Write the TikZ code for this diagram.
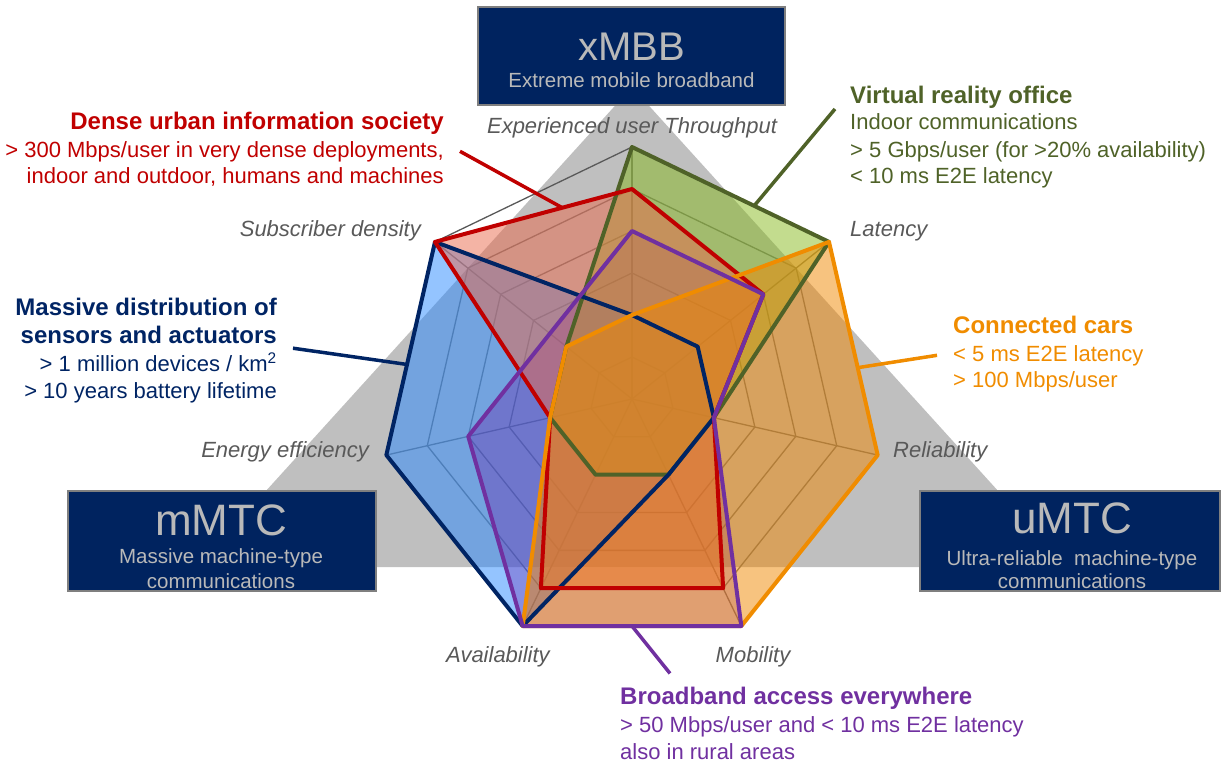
\documentclass[tikz,border=0pt]{standalone}
\usepackage{fontspec}
\setmainfont{Liberation Sans}
\usetikzlibrary{calc, positioning}

\definecolor{catnavy}{RGB}{0,35,95}
\definecolor{boxedge}{RGB}{127,127,127}
\definecolor{boxtext}{RGB}{185,185,185}
\definecolor{triangrey}{RGB}{191,191,191}
\definecolor{axisgrey}{RGB}{89,89,89}
\definecolor{gridgrey}{RGB}{115,115,115}
\definecolor{densered}{RGB}{192,0,0}
\definecolor{vrgreen}{RGB}{79,98,40}
\definecolor{sensornavy}{RGB}{0,36,100}
\definecolor{carorange}{RGB}{240,140,0}
\definecolor{bbpurple}{RGB}{112,48,160}
\definecolor{densefill}{RGB}{233,105,75}
\definecolor{vrfill}{RGB}{135,185,30}
\definecolor{sensorfill}{RGB}{41,137,255}
\definecolor{carfill}{RGB}{240,135,0}
\definecolor{bbfill}{RGB}{103,17,163}

\tikzset{
  catbox/.style={draw=boxedge, line width=1.5pt, fill=catnavy, inner sep=0pt},
  cattitle/.style={text=boxtext, anchor=base, inner sep=0pt, font=\fontsize{44}{44}\selectfont},
  catsub/.style={text=boxtext, anchor=base, inner sep=0pt, font=\fontsize{20.5}{24}\selectfont},
  axislabel/.style={text=axisgrey, inner sep=0pt, font=\fontsize{22}{26}\selectfont\itshape},
  headline/.style={inner sep=0pt, font=\fontsize{24}{27}\selectfont\bfseries},
  detail/.style={inner sep=0pt, font=\fontsize{22}{27}\selectfont},
  gridline/.style={gridgrey, line width=1.3pt},
  series/.style={line width=4pt, line join=round},
  connector/.style={line width=3.5pt},
}

\begin{document}
\begin{tikzpicture}[x=1pt, y=-1pt]
  \useasboundingbox (0,0) rectangle (1221,763);

  % grey triangle behind the chart
  \fill[triangrey] (632,87) -- (1067,567) -- (197,567) -- cycle;

  % usage scenario boxes
  \node[catbox, minimum width=307pt, minimum height=98pt] (xmbb) at (631.5,56) {};
  \node[catbox, minimum width=308pt, minimum height=100pt] (mmtc) at (222,541) {};
  \node[catbox, minimum width=300pt, minimum height=100pt] (umtc) at (1070,541) {};
  \node[cattitle, font=\fontsize{40}{40}\selectfont] (xmbb-t) at (631.5,60) {xMBB};
  \node[catsub] (xmbb-s) at (631.5,87) {Extreme mobile broadband};
  \node[cattitle] (mmtc-t) at (221,535) {mMTC};
  \node[catsub] (mmtc-s) at (221,563) {Massive machine-type};
  \node[catsub] (mmtc-c) at (221,588) {communications};
  \node[cattitle] (umtc-t) at (1072,533) {uMTC};
  \node[catsub] (umtc-s) at (1072,565) {Ultra-reliable\ \ machine-type};
  \node[catsub] (umtc-c) at (1072,588) {communications};

  \begin{scope}[shift={(632,399)}]
    \coordinate (ctr) at (0,0);
    % web
    \foreach \k in {1,...,5}
      \draw[gridline] (-90:{42*\k}) \foreach \i in {1,...,6} { -- ({-90+\i*360/7}:{42*\k}) } -- cycle;
    \foreach \i in {0,...,6}
      \draw[gridline] (ctr) -- ({-90+\i*360/7}:252) coordinate (axis-\i);
    \draw[gridline, axisgrey] (axis-0) \foreach \i in {1,...,6} { -- (axis-\i) } -- cycle;

    % scores: throughput, latency, reliability, mobility, availability, energy, density
    \foreach \v [count=\i from 0] in {2,2,2,2,6,6,6}
      \coordinate (ms-\i) at ({-90+\i*360/7}:{42*\v});
    \foreach \v [count=\i from 0] in {6,6,2,2,2,2,2}
      \coordinate (vr-\i) at ({-90+\i*360/7}:{42*\v});
    \foreach \v [count=\i from 0] in {5,4,2,5,5,2,6}
      \coordinate (du-\i) at ({-90+\i*360/7}:{42*\v});
    \foreach \v [count=\i from 0] in {2,6,6,6,6,2,2}
      \coordinate (cc-\i) at ({-90+\i*360/7}:{42*\v});
    \foreach \v [count=\i from 0] in {4,4,2,6,6,4,2.5}
      \coordinate (ba-\i) at ({-90+\i*360/7}:{42*\v});
  \end{scope}

  % areas
  \foreach \s/\c/\o in {ms/sensorfill/.5, ba/bbfill/.3, vr/vrfill/.5, du/densefill/.5, cc/carfill/.5}
    \fill[\c, fill opacity=\o] (\s-0) \foreach \i in {1,...,6} { -- (\s-\i) } -- cycle;
  % outlines
  \foreach \s/\c in {vr/vrgreen, ms/sensornavy, du/densered, cc/carorange, ba/bbpurple}
    \draw[series, \c] (\s-0) \foreach \i in {1,...,6} { -- (\s-\i) } -- cycle;

  % axis labels
  \node[axislabel, anchor=base] (lbl-thr) at (632,133) {Experienced user Throughput};
  \node[axislabel, anchor=base west] (lbl-lat) at (850,236) {Latency};
  \node[axislabel, anchor=base west] (lbl-rel) at (893,457) {Reliability};
  \node[axislabel, anchor=base] (lbl-mob) at (753,662) {Mobility};
  \node[axislabel, anchor=base] (lbl-ava) at (498,662) {Availability};
  \node[axislabel, anchor=base east] (lbl-ene) at (369,457) {Energy efficiency};
  \node[axislabel, anchor=base east] (lbl-sub) at (421,236) {Subscriber density};

  % dense urban information society
  \node[headline, densered, anchor=base east] (du-h) at (444,129) {Dense urban information society};
  \foreach \y/\txt [count=\i] in {
    157/{> 300 Mbps/user in very dense deployments,},
    183/{indoor and outdoor, humans and machines}
  }
    \node[detail, densered, anchor=base east] (du-l\i) at (444,\y) {\txt};
  \draw[connector, densered] ([xshift=16pt]du-l1.east) -- ($(du-0)!.354!(du-6)$);

  % virtual reality office
  \node[headline, vrgreen, anchor=base west] (vr-h) at (850,103) {Virtual reality office};
  \foreach \y/\txt [count=\i] in {
    129/{Indoor communications},
    157/{> 5 Gbps/user (for >20\% availability)},
    183/{< 10 ms E2E latency}
  }
    \node[detail, vrgreen, anchor=base west] (vr-l\i) at (850,\y) {\txt};
  \draw[connector, vrgreen] ($(vr-h.west)!.5!(vr-l1.west)+(-15,0)$) -- ($(vr-0)!.62!(vr-1)$);

  % massive distribution of sensors
  \foreach \y/\txt [count=\i] in {
    315/{Massive distribution of},
    343/{sensors and actuators}
  }
    \node[headline, sensornavy, anchor=base east] (ms-h\i) at (277,\y) {\txt};
  \foreach \y/\txt [count=\i] in {
    371/{> 1 million devices / km\textsuperscript{2}},
    398/{> 10 years battery lifetime}
  }
    \node[detail, sensornavy, anchor=base east] (ms-l\i) at (277,\y) {\txt};
  \draw[connector, sensornavy] ($(ms-h2.east)!.5!(ms-l1.east)+(16,0)$) -- ($(ms-6)!.575!(ms-5)$);

  % connected cars
  \node[headline, carorange, anchor=base west] (cc-h) at (953,333) {Connected cars};
  \foreach \y/\txt [count=\i] in {
    361/{< 5 ms E2E latency},
    387/{> 100 Mbps/user}
  }
    \node[detail, carorange, anchor=base west] (cc-l\i) at (953,\y) {\txt};
  \draw[connector, carorange] ([xshift=-16pt]cc-l1.west) -- ($(cc-1)!.59!(cc-2)$);

  % broadband access everywhere
  \node[headline, bbpurple, anchor=base west] (ba-h) at (620,704) {Broadband access everywhere};
  \foreach \y/\txt [count=\i] in {
    732/{> 50 Mbps/user and < 10 ms E2E latency},
    759/{also in rural areas}
  }
    \node[detail, bbpurple, anchor=base west] (ba-l\i) at (620,\y) {\txt};
  \draw[connector, bbpurple] ($(ba-h.north west)+(50,-13)$) -- ($(ba-4)!.5!(ba-3)$);
\end{tikzpicture}
\end{document}
